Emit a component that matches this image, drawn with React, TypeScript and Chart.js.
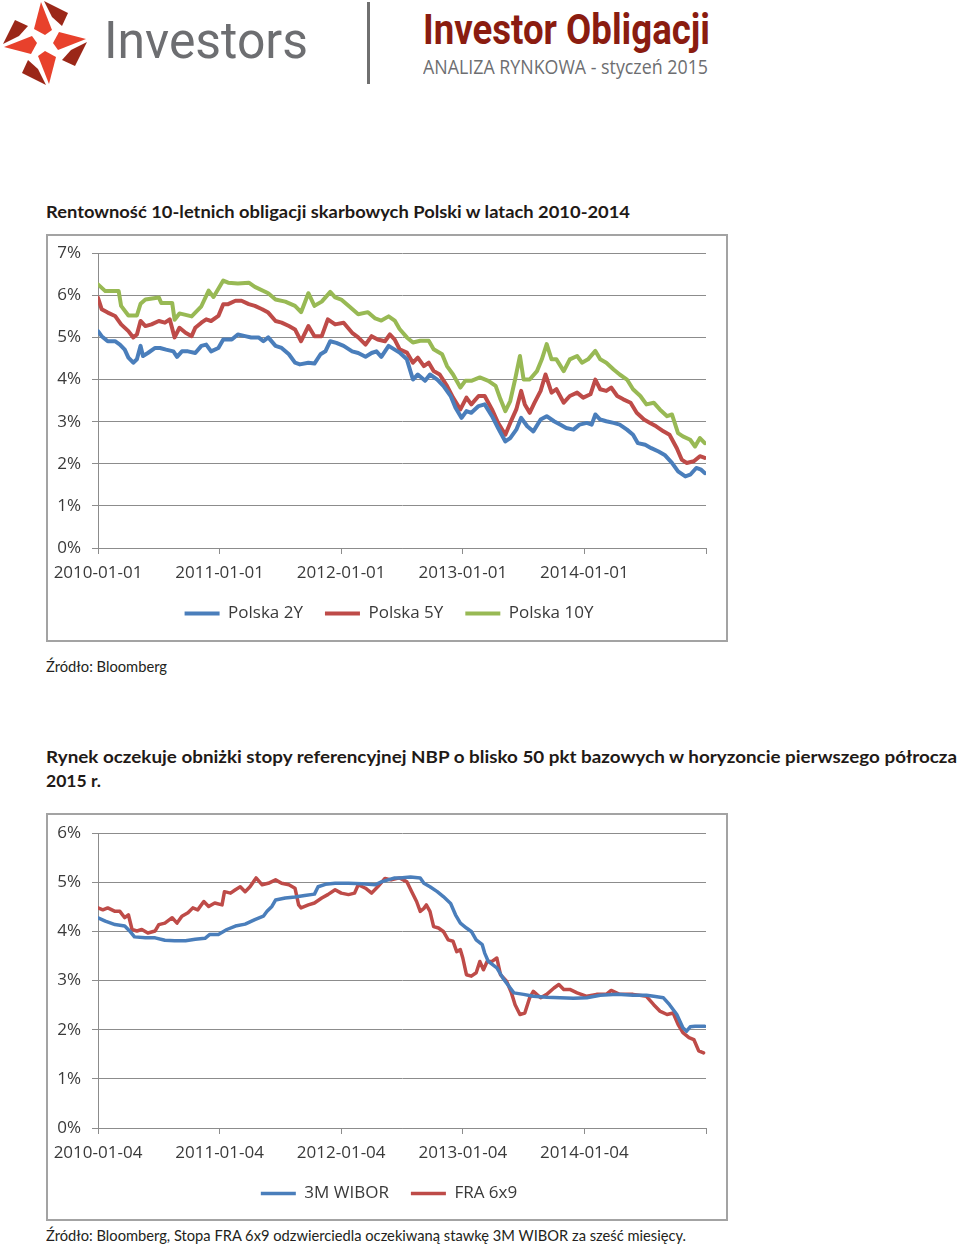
import React, { useEffect, useLayoutEffect, useRef } from 'react';
import { Chart, registerables } from 'chart.js';

Chart.register(...registerables);

// ---------- data: chart 1 (Polish treasury yields, %) ----------
const pl2yDates = [
  2010.00, 2010.03, 2010.08, 2010.14, 2010.18, 2010.22, 2010.25, 2010.29, 2010.32, 2010.35,
  2010.37, 2010.41, 2010.47, 2010.51, 2010.56, 2010.62, 2010.65, 2010.69, 2010.74, 2010.80,
  2010.85, 2010.89, 2010.93, 2010.99, 2011.03, 2011.10, 2011.15, 2011.21, 2011.26, 2011.32,
  2011.36, 2011.40, 2011.46, 2011.51, 2011.57, 2011.62, 2011.66, 2011.73, 2011.78, 2011.83,
  2011.87, 2011.91, 2011.96, 2012.02, 2012.09, 2012.14, 2012.20, 2012.25, 2012.29, 2012.33,
  2012.39, 2012.44, 2012.48,
  2012.54, 2012.59, 2012.63, 2012.69, 2012.73, 2012.79, 2012.84, 2012.90, 2012.94, 2012.99,
  2013.03, 2013.07, 2013.13, 2013.18, 2013.24, 2013.29, 2013.35, 2013.39, 2013.44, 2013.48,
  2013.53, 2013.58, 2013.64, 2013.69, 2013.75, 2013.80, 2013.85, 2013.91, 2013.96, 2014.02,
  2014.06, 2014.09, 2014.13, 2014.18, 2014.24, 2014.29, 2014.35, 2014.40, 2014.44, 2014.50,
  2014.55, 2014.61, 2014.66, 2014.72, 2014.77, 2014.83, 2014.87, 2014.92, 2014.96, 2014.99,
];
const pl2yValues = [
  5.15, 5.03, 4.91, 4.91, 4.83, 4.71, 4.52, 4.40, 4.48, 4.80,
  4.56, 4.63, 4.75, 4.75, 4.71, 4.67, 4.54, 4.67, 4.67, 4.63,
  4.80, 4.83, 4.67, 4.75, 4.95, 4.95, 5.07, 5.03, 5.00, 5.00,
  4.91, 5.00, 4.80, 4.75, 4.60, 4.40, 4.36, 4.40, 4.38, 4.60,
  4.67, 4.91, 4.87, 4.80, 4.67, 4.63, 4.54, 4.63, 4.67, 4.54,
  4.80, 4.71, 4.64,
  4.48, 4.00, 4.12, 3.97, 4.12, 4.00, 3.85, 3.61, 3.33, 3.09,
  3.25, 3.21, 3.37, 3.41, 3.13, 2.85, 2.53, 2.61, 2.81, 3.09,
  2.89, 2.77, 3.05, 3.13, 3.01, 2.93, 2.85, 2.81, 2.93, 2.97,
  2.93, 3.17, 3.05, 3.01, 2.97, 2.93, 2.81, 2.69, 2.49, 2.45,
  2.37, 2.29, 2.21, 2.02, 1.82, 1.70, 1.74, 1.90, 1.86, 1.78,
];

const pl5yDates = [
  2010.00, 2010.03, 2010.08, 2010.14, 2010.19, 2010.25, 2010.29, 2010.32, 2010.35, 2010.39,
  2010.44, 2010.50, 2010.55, 2010.59, 2010.63, 2010.67, 2010.72, 2010.77, 2010.80, 2010.85,
  2010.89, 2010.93, 2010.99, 2011.03, 2011.07, 2011.13, 2011.18, 2011.24, 2011.29, 2011.35,
  2011.40, 2011.46, 2011.51, 2011.57, 2011.62, 2011.67, 2011.73, 2011.78, 2011.84, 2011.89,
  2011.95, 2012.02, 2012.09, 2012.14, 2012.20, 2012.25, 2012.30, 2012.36, 2012.40, 2012.44,
  2012.48,
  2012.54, 2012.59, 2012.63, 2012.68, 2012.72, 2012.76, 2012.81, 2012.87, 2012.92, 2012.98,
  2013.03, 2013.07, 2013.13, 2013.18, 2013.24, 2013.29, 2013.35, 2013.39, 2013.44, 2013.48,
  2013.51, 2013.55, 2013.59, 2013.64, 2013.68, 2013.73, 2013.77, 2013.83, 2013.88, 2013.94,
  2013.99, 2014.05, 2014.09, 2014.13, 2014.18, 2014.22, 2014.27, 2014.32, 2014.38, 2014.43,
  2014.49, 2014.54, 2014.59, 2014.65, 2014.70, 2014.76, 2014.80, 2014.84, 2014.90, 2014.95,
  2014.99,
];
const pl5yValues = [
  5.94, 5.67, 5.59, 5.51, 5.31, 5.15, 5.00, 5.07, 5.39, 5.27,
  5.31, 5.39, 5.35, 5.43, 5.00, 5.23, 5.11, 5.03, 5.23, 5.35,
  5.43, 5.39, 5.51, 5.79, 5.79, 5.87, 5.87, 5.79, 5.75, 5.67,
  5.59, 5.39, 5.35, 5.27, 5.19, 4.91, 5.27, 5.03, 5.03, 5.43,
  5.31, 5.35, 5.11, 5.00, 4.83, 5.03, 4.95, 4.91, 5.07, 4.95,
  4.72,
  4.64, 4.40, 4.52, 4.32, 4.40, 4.20, 4.12, 3.85, 3.57, 3.29,
  3.57, 3.41, 3.61, 3.61, 3.29, 2.97, 2.69, 2.97, 3.29, 3.73,
  3.41, 3.21, 3.45, 3.73, 4.12, 3.69, 3.77, 3.45, 3.61, 3.69,
  3.57, 3.65, 4.00, 3.77, 3.73, 3.81, 3.61, 3.53, 3.45, 3.21,
  3.05, 2.97, 2.89, 2.77, 2.69, 2.37, 2.10, 2.02, 2.06, 2.18,
  2.14,
];

const pl10yDates = [
  2010.00, 2010.06, 2010.17, 2010.19, 2010.25, 2010.32, 2010.35, 2010.39, 2010.50, 2010.52,
  2010.61, 2010.63, 2010.67, 2010.77, 2010.85, 2010.91, 2010.95, 2011.03, 2011.07, 2011.15,
  2011.24, 2011.29, 2011.40, 2011.46, 2011.54, 2011.62, 2011.67, 2011.73, 2011.78, 2011.84,
  2011.91, 2011.95, 2012.00, 2012.06, 2012.14, 2012.22, 2012.28, 2012.33, 2012.39, 2012.44,
  2012.48,
  2012.54, 2012.59, 2012.65, 2012.72, 2012.76, 2012.83, 2012.87, 2012.92, 2012.98, 2013.02,
  2013.07, 2013.14, 2013.21, 2013.27, 2013.31, 2013.35, 2013.39, 2013.43, 2013.47, 2013.50,
  2013.55, 2013.61, 2013.65, 2013.69, 2013.73, 2013.77, 2013.83, 2013.88, 2013.94, 2013.98,
  2014.03, 2014.09, 2014.13, 2014.18, 2014.24, 2014.29, 2014.35, 2014.40, 2014.46, 2014.51,
  2014.57, 2014.62, 2014.68, 2014.72, 2014.77, 2014.81, 2014.87, 2014.91, 2014.95, 2014.99,
];
const pl10yValues = [
  6.26, 6.10, 6.10, 5.75, 5.52, 5.52, 5.80, 5.90, 5.95, 5.82,
  5.82, 5.42, 5.57, 5.50, 5.74, 6.11, 5.96, 6.35, 6.30, 6.28,
  6.30, 6.20, 6.05, 5.90, 5.85, 5.75, 5.60, 6.05, 5.75, 5.85,
  6.08, 5.95, 5.90, 5.75, 5.55, 5.60, 5.45, 5.40, 5.50, 5.40,
  5.20,
  5.00, 4.88, 4.92, 4.92, 4.72, 4.60, 4.32, 4.12, 3.81, 3.97,
  3.97, 4.05, 3.97, 3.85, 3.53, 3.25, 3.49, 4.00, 4.56, 4.00,
  4.00, 4.20, 4.48, 4.84, 4.48, 4.48, 4.20, 4.48, 4.56, 4.40,
  4.48, 4.68, 4.48, 4.40, 4.24, 4.12, 4.00, 3.77, 3.61, 3.41,
  3.45, 3.29, 3.13, 3.17, 2.73, 2.65, 2.57, 2.41, 2.61, 2.49,
];

// ---------- data: chart 2 (3M WIBOR vs FRA 6x9, %) ----------
const wiborDates = [
  2010.00, 2010.06, 2010.14, 2010.22, 2010.26, 2010.30, 2010.39, 2010.47, 2010.55, 2010.63,
  2010.72, 2010.80, 2010.88, 2010.92, 2010.99, 2011.06, 2011.13, 2011.21, 2011.29, 2011.36,
  2011.39, 2011.43, 2011.46, 2011.54, 2011.62, 2011.70, 2011.78, 2011.81, 2011.87, 2011.95,
  2012.06, 2012.17, 2012.28, 2012.33, 2012.44,
  2012.48, 2012.57, 2012.65, 2012.68, 2012.73, 2012.79, 2012.84, 2012.90, 2012.94, 2012.98,
  2013.03, 2013.07, 2013.11, 2013.16, 2013.18, 2013.21, 2013.28, 2013.33, 2013.39, 2013.42,
  2013.50, 2013.58, 2013.69, 2013.80, 2013.91, 2014.02, 2014.13, 2014.27, 2014.40, 2014.51,
  2014.57, 2014.65, 2014.70, 2014.76, 2014.81, 2014.84, 2014.87, 2014.91, 2014.99,
];
const wiborValues = [
  4.28, 4.21, 4.14, 4.11, 4.01, 3.89, 3.87, 3.87, 3.82, 3.81,
  3.81, 3.84, 3.86, 3.94, 3.94, 4.04, 4.11, 4.15, 4.24, 4.31,
  4.41, 4.51, 4.64, 4.68, 4.70, 4.73, 4.76, 4.91, 4.96, 4.98,
  4.98, 4.97, 4.95, 5.01, 5.09,
  5.09, 5.11, 5.09, 4.98, 4.91, 4.81, 4.71, 4.57, 4.34, 4.17,
  4.07, 4.00, 3.83, 3.73, 3.56, 3.39, 3.26, 3.05, 2.85, 2.75,
  2.72, 2.68, 2.66, 2.65, 2.64, 2.65, 2.70, 2.72, 2.70, 2.70,
  2.68, 2.65, 2.51, 2.31, 2.04, 1.97, 2.06, 2.07, 2.07,
];

const fraDates = [
  2010.00, 2010.04, 2010.08, 2010.14, 2010.18, 2010.22, 2010.25, 2010.28, 2010.32, 2010.36,
  2010.41, 2010.47, 2010.50, 2010.55, 2010.61, 2010.65, 2010.69, 2010.74, 2010.78, 2010.82,
  2010.87, 2010.91, 2010.96, 2011.02, 2011.04, 2011.09, 2011.13, 2011.17, 2011.21, 2011.25,
  2011.30, 2011.35, 2011.40, 2011.46, 2011.51, 2011.57, 2011.62, 2011.65, 2011.67, 2011.73,
  2011.78, 2011.84, 2011.89, 2011.95, 2012.00, 2012.06, 2012.11, 2012.14, 2012.20, 2012.25,
  2012.30, 2012.36, 2012.41, 2012.48,
  2012.54, 2012.58, 2012.62, 2012.65, 2012.68, 2012.70, 2012.73, 2012.76, 2012.80, 2012.84,
  2012.88, 2012.92, 2012.95, 2012.98, 2013.00, 2013.03, 2013.07, 2013.11, 2013.14, 2013.17,
  2013.20, 2013.24, 2013.28, 2013.31, 2013.36, 2013.40, 2013.43, 2013.47, 2013.51, 2013.55,
  2013.58, 2013.64, 2013.69, 2013.75, 2013.79, 2013.83, 2013.88, 2013.94, 2014.02, 2014.10,
  2014.18, 2014.22, 2014.29, 2014.40, 2014.51, 2014.57, 2014.62, 2014.68, 2014.73, 2014.77,
  2014.81, 2014.86, 2014.90, 2014.94, 2014.98,
];
const fraValues = [
  4.48, 4.44, 4.48, 4.41, 4.41, 4.28, 4.34, 4.04, 4.01, 4.04,
  3.97, 4.01, 4.14, 4.17, 4.28, 4.17, 4.31, 4.38, 4.48, 4.44,
  4.61, 4.51, 4.58, 4.54, 4.81, 4.78, 4.85, 4.91, 4.81, 4.91,
  5.09, 4.95, 4.98, 5.05, 4.98, 4.95, 4.88, 4.54, 4.48, 4.54,
  4.58, 4.68, 4.75, 4.85, 4.78, 4.75, 4.78, 4.95, 4.88, 4.78,
  4.91, 5.08, 5.05, 5.09,
  5.01, 4.81, 4.61, 4.41, 4.47, 4.54, 4.41, 4.10, 4.07, 4.00,
  3.83, 3.80, 3.59, 3.63, 3.46, 3.12, 3.09, 3.16, 3.39, 3.22,
  3.39, 3.39, 3.46, 3.12, 2.99, 2.75, 2.51, 2.31, 2.34, 2.65,
  2.78, 2.65, 2.72, 2.85, 2.92, 2.82, 2.82, 2.75, 2.68, 2.72,
  2.72, 2.80, 2.72, 2.72, 2.68, 2.51, 2.38, 2.31, 2.34, 2.11,
  1.94, 1.84, 1.80, 1.57, 1.53,
];

const yearTicks = [2010, 2011, 2012, 2013, 2014];

// ---------- styling ----------
const BLUE = '#4a7ebb';
const RED = '#be4b48';
const GREEN = '#98b954';
const GRID = '#8c8c8c';
const TICK_FONT = { family: '"Open Sans", sans-serif', size: 17 };
const TICK_COLOR = '#3a3a3a';

type Series = { label: string; dates: number[]; values: number[]; color: string };

function LineChart({
  series, yMax, dateSuffix, lineWidth, offsetTop,
}: { series: Series[]; yMax: number; dateSuffix: string; lineWidth: number; offsetTop: number }) {
  const ref = useRef<HTMLCanvasElement>(null);
  useEffect(() => {
    const chart = new Chart(ref.current as HTMLCanvasElement, {
      type: 'line',
      data: {
        datasets: series.map((s) => ({
          label: s.label,
          data: s.dates.slice(0, s.values.length).map((d, i) => ({ x: d, y: s.values[i] })),
          borderColor: s.color,
          backgroundColor: s.color,
          borderWidth: lineWidth,
          pointRadius: 0,
          tension: 0,
          borderJoinStyle: 'round' as const,
          borderCapStyle: 'round' as const,
          yAxisID: 'y',
        })),
      },
      options: {
        animation: false,
        responsive: false,
        maintainAspectRatio: false,
        layout: { padding: { top: 4, right: 0, left: 0, bottom: 8 } },
        plugins: {
          tooltip: { enabled: false },
          legend: {
            position: 'bottom',
            labels: {
              usePointStyle: true,
              pointStyle: 'line',
              pointStyleWidth: 35,
              boxWidth: 35,
              padding: 22,
              color: TICK_COLOR,
              font: { family: '"Open Sans", sans-serif', size: 17 },
            },
          },
        },
        scales: {
          x: {
            type: 'linear',
            min: 2010,
            max: 2015,
            afterBuildTicks: (s: any) => {
              s.ticks = [...yearTicks, 2015].map((v) => ({ value: v }));
            },
            ticks: {
              autoSkip: false,
              maxRotation: 0,
              padding: 9,
              color: TICK_COLOR,
              font: TICK_FONT,
              callback: (v: any) => (yearTicks.includes(Number(v)) ? `${v}${dateSuffix}` : ''),
            },
            grid: { drawOnChartArea: false, tickLength: 6, color: GRID, lineWidth: 1 },
            border: { color: GRID, width: 1 },
            afterFit: (s: any) => {
              s.height = 35;
            },
          },
          y: {
            min: 0,
            max: yMax,
            ticks: {
              stepSize: 1,
              padding: 11,
              color: TICK_COLOR,
              font: TICK_FONT,
              callback: (v: any) => `${v}%`,
            },
            grid: { color: GRID, tickLength: 6, lineWidth: 1 },
            border: { color: GRID, width: 1 },
            afterFit: (s: any) => {
              s.width = 54;
            },
          },
          yRight: {
            position: 'right',
            display: true,
            grid: { display: false, drawTicks: false },
            border: { display: false },
            ticks: { display: false },
            afterFit: (s: any) => {
              s.width = 28;
            },
          },
        },
      } as any,
    });
    return () => chart.destroy();
  }, []);
  return (
    <canvas
      ref={ref}
      width={690}
      height={408}
      style={{ display: 'block', position: 'absolute', left: -4, top: offsetTop }}
    />
  );
}

function FitText({
  x, y, width, size, weight = 400, family, color, children,
}: {
  x: number; y: number; width?: number; size: number; weight?: number; family: string; color: string; children: React.ReactNode;
}) {
  const ref = useRef<HTMLSpanElement>(null);
  useLayoutEffect(() => {
    const fit = () => {
      const el = ref.current;
      if (!el || !width) return;
      el.style.transform = 'none';
      const w = el.getBoundingClientRect().width;
      if (w > 0) el.style.transform = `scaleX(${width / w})`;
    };
    fit();
    const fonts = (document as any).fonts;
    if (fonts && fonts.ready) fonts.ready.then(fit);
  }, []);
  return (
    <span
      ref={ref}
      style={{
        position: 'absolute', left: x, top: y, fontSize: size, fontWeight: weight, fontFamily: family,
        color, whiteSpace: 'nowrap', lineHeight: 1, transformOrigin: '0 0', display: 'inline-block',
      }}
    >
      {children}
    </span>
  );
}

function Logo() {
  const cx = 45;
  const cy = 43;
  const light: [number, number][] = [[0, -8], [-11, -14], [-4, -41], [7, -13]];
  const dark: [number, number][] = [[-1, -42], [23, -30], [17, -17], [7, -26]];
  const rot = (pts: [number, number][], k: number) =>
    pts
      .map(([x, y]) => {
        let px = x, py = y;
        for (let i = 0; i < k; i++) { const t = px; px = -py; py = t; }
        return `${cx + px},${cy + py}`;
      })
      .join(' ');
  return (
    <svg width={92} height={90} style={{ position: 'absolute', left: 0, top: 0 }}>
      {[0, 1, 2, 3].map((k) => (
        <g key={k}>
          <polygon points={rot(light, k)} fill="#e8412c" />
          <polygon points={rot(dark, k)} fill="#9b2718" />
        </g>
      ))}
    </svg>
  );
}

const SANS = '"Lato", "Open Sans", sans-serif';

export default function App() {
  const box = (top: number): React.CSSProperties => ({
    position: 'absolute', left: 46, top, width: 682, height: 408, boxSizing: 'border-box',
    border: '2px solid #a3a3a3', background: '#fff',
  });
  return (
    <div style={{ position: 'absolute', left: 0, top: 0, width: 960, height: 1244, overflow: 'hidden', background: '#fff' }}>
      <Logo />
      <FitText x={104} y={15} width={204} size={52} family='"Roboto", sans-serif' color="#6d6e71">Investors</FitText>
      <div style={{ position: 'absolute', left: 367, top: 2, width: 3, height: 82, background: '#707070' }} />
      <FitText x={423} y={9} width={287} size={42} weight={700} family='"Roboto", sans-serif' color="#8a1c10">Investor Obligacji</FitText>
      <FitText x={423} y={57} width={285} size={20} family='"Open Sans", sans-serif' color="#6d6e71">ANALIZA RYNKOWA - styczeń 2015</FitText>

      <FitText x={46} y={203} width={584} size={17} weight={700} family={SANS} color="#1f1a17">
        Rentowność 10-letnich obligacji skarbowych Polski w latach 2010-2014
      </FitText>
      <div style={box(234)}>
        <LineChart
          yMax={7}
          dateSuffix="-01-01"
          lineWidth={4}
          offsetTop={-4}
          series={[
            { label: 'Polska 2Y', dates: pl2yDates, values: pl2yValues, color: BLUE },
            { label: 'Polska 5Y', dates: pl5yDates, values: pl5yValues, color: RED },
            { label: 'Polska 10Y', dates: pl10yDates, values: pl10yValues, color: GREEN },
          ]}
        />
      </div>
      <FitText x={46} y={659} width={121} size={15} family={SANS} color="#231f20">Źródło: Bloomberg</FitText>

      <FitText x={46} y={748} width={911} size={17} weight={700} family={SANS} color="#1f1a17">
        Rynek oczekuje obniżki stopy referencyjnej NBP o blisko 50 pkt bazowych w horyzoncie pierwszego półrocza
      </FitText>
      <FitText x={46} y={772} width={55} size={17} weight={700} family={SANS} color="#1f1a17">2015 r.</FitText>
      <div style={box(813)}>
        <LineChart
          yMax={6}
          dateSuffix="-01-04"
          lineWidth={3.5}
          offsetTop={-3}
          series={[
            { label: '3M WIBOR', dates: wiborDates, values: wiborValues, color: BLUE },
            { label: 'FRA 6x9', dates: fraDates, values: fraValues, color: RED },
          ]}
        />
      </div>
      <FitText x={46} y={1228} width={640} size={15} family={SANS} color="#231f20">
        Źródło: Bloomberg, Stopa FRA 6x9 odzwierciedla oczekiwaną stawkę 3M WIBOR za sześć miesięcy.
      </FitText>
    </div>
  );
}
